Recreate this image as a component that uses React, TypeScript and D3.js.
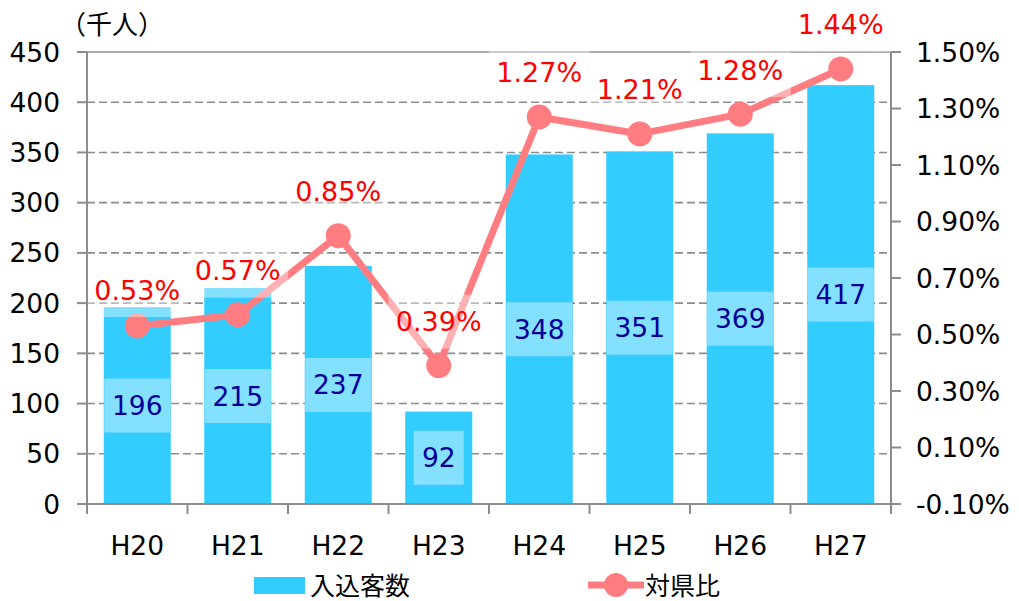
import React from "react";
import * as d3 from "d3";

const categories = ["H20", "H21", "H22", "H23", "H24", "H25", "H26", "H27"];
const visitors = [196, 215, 237, 92, 348, 351, 369, 417];
const ratio = [0.53, 0.57, 0.85, 0.39, 1.27, 1.21, 1.28, 1.44];
const leftTicks = [0, 50, 100, 150, 200, 250, 300, 350, 400, 450];
const rightTicks = [-0.1, 0.1, 0.3, 0.5, 0.7, 0.9, 1.1, 1.3, 1.5];
const unitLabel = "（千人）";
const barSeriesName = "入込客数";
const lineSeriesName = "対県比";

const W = 1019;
const H = 601;
const plot = { left: 87, right: 891, top: 52, bottom: 504 };
const LATIN = "'DejaVu Sans', Verdana, sans-serif";
const CJK = "'Noto Sans CJK JP', sans-serif";
const BAR = "#33CCFF";
const LINE = "#FF7C80";
const GRID = "#8C8C8C";
const FS = 26.5;

export default function App() {
  const x = d3.scaleBand<string>().domain(categories).range([plot.left, plot.right]).paddingInner(1 / 3).paddingOuter(1 / 6);
  const xb = d3.scaleBand<string>().domain(categories).range([plot.left, plot.right]);
  const yL = d3.scaleLinear().domain([0, 450]).range([plot.bottom, plot.top]);
  const yR = d3.scaleLinear().domain([-0.1, 1.5]).range([plot.bottom, plot.top]);
  const cx = (c: string) => (xb(c) as number) + xb.bandwidth() / 2;
  const lineGen = d3.line<number>().x((_, i) => cx(categories[i])).y((d) => yR(d));
  const digitW = FS * 0.636;
  const lift = (i: number) => (i === 0 ? 36 : 44);

  return (
    <svg width={W} height={H} style={{ position: "absolute", left: 0, top: 0, background: "#fff" }}>
      {leftTicks.map((t) => (
        <line key={"g" + t} x1={plot.left} x2={plot.right} y1={yL(t)} y2={yL(t)} stroke={GRID} strokeWidth={1.6}
          strokeDasharray={t === 450 || t === 0 ? undefined : "8,4"} />
      ))}
      {visitors.map((v, i) => (
        <rect key={"b" + i} x={x(categories[i])} y={yL(v)} width={x.bandwidth()} height={yL(0) - yL(v)} fill={BAR} />
      ))}
      {visitors.map((v, i) => {
        const s = String(v);
        const bw = s.length * 16 + 18;
        const cy = (yL(v) + yL(0)) / 2;
        return (
          <g key={"bl" + i}>
            <rect x={cx(categories[i]) - bw / 2} y={cy - 27} width={bw} height={54} fill="#fff" fillOpacity={0.4} />
            <text x={cx(categories[i])} y={cy} textAnchor="middle" dominantBaseline="central" fontFamily={LATIN} fontSize={FS} fill="#000099">{s}</text>
          </g>
        );
      })}
      <path d={lineGen(ratio) || ""} fill="none" stroke={LINE} strokeWidth={7} strokeLinejoin="round" />
      {ratio.map((r, i) => (
        <circle key={"c" + i} cx={cx(categories[i])} cy={yR(r)} r={12.5} fill={LINE} />
      ))}
      {ratio.map((r, i) => {
        const s = r.toFixed(2) + "%";
        const bw = 101;
        const cy = yR(r) - lift(i);
        return (
          <g key={"ll" + i}>
            <rect x={cx(categories[i]) - bw / 2} y={cy - 27} width={bw} height={54} fill="#fff" fillOpacity={0.4} />
            <text x={cx(categories[i])} y={cy} textAnchor="middle" dominantBaseline="central" fontFamily={LATIN} fontSize={27} fill="#FF0000">{s}</text>
          </g>
        );
      })}
      <line x1={plot.left} x2={plot.left} y1={plot.top} y2={plot.bottom} stroke={GRID} strokeWidth={2} />
      <line x1={plot.right} x2={plot.right} y1={plot.top} y2={plot.bottom} stroke={GRID} strokeWidth={2} />
      <line x1={plot.left} x2={plot.right} y1={plot.bottom} y2={plot.bottom} stroke={GRID} strokeWidth={2} />
      {leftTicks.map((t) => (
        <g key={"lt" + t}>
          <line x1={plot.left - 10} x2={plot.left} y1={yL(t)} y2={yL(t)} stroke={GRID} strokeWidth={2} />
          <text x={60} y={yL(t)} textAnchor="end" dominantBaseline="central" fontFamily={LATIN} fontSize={FS} fill="#000">{t}</text>
        </g>
      ))}
      {rightTicks.map((t) => (
        <g key={"rt" + t}>
          <line x1={plot.right} x2={plot.right + 10} y1={yR(t)} y2={yR(t)} stroke={GRID} strokeWidth={2} />
          <text x={916} y={yR(t)} textAnchor="start" dominantBaseline="central" fontFamily={LATIN} fontSize={FS} fill="#000">{t.toFixed(2) + "%"}</text>
        </g>
      ))}
      {categories.map((c, i) => (
        <line key={"xt" + i} x1={xb(c) as number} x2={xb(c) as number} y1={plot.bottom} y2={plot.bottom + 10} stroke={GRID} strokeWidth={2} />
      ))}
      <line x1={plot.right} x2={plot.right} y1={plot.bottom} y2={plot.bottom + 10} stroke={GRID} strokeWidth={2} />
      {categories.map((c) => (
        <text key={"xl" + c} x={cx(c)} y={545} textAnchor="middle" dominantBaseline="central" fontFamily={LATIN} fontSize={FS} fill="#000">{c}</text>
      ))}
      <text x={60} y={22} dominantBaseline="central" fontFamily={CJK} fontSize={26} fill="#000">{unitLabel}</text>
      <rect x={254} y={577} width={51} height={17} fill={BAR} />
      <text x={310} y={584} dominantBaseline="central" fontFamily={CJK} fontSize={25} fill="#000">{barSeriesName}</text>
      <line x1={588} x2={644} y1={585} y2={585} stroke={LINE} strokeWidth={7} />
      <circle cx={616} cy={585} r={12} fill={LINE} />
      <text x={645} y={584} dominantBaseline="central" fontFamily={CJK} fontSize={25} fill="#000">{lineSeriesName}</text>
    </svg>
  );
}
